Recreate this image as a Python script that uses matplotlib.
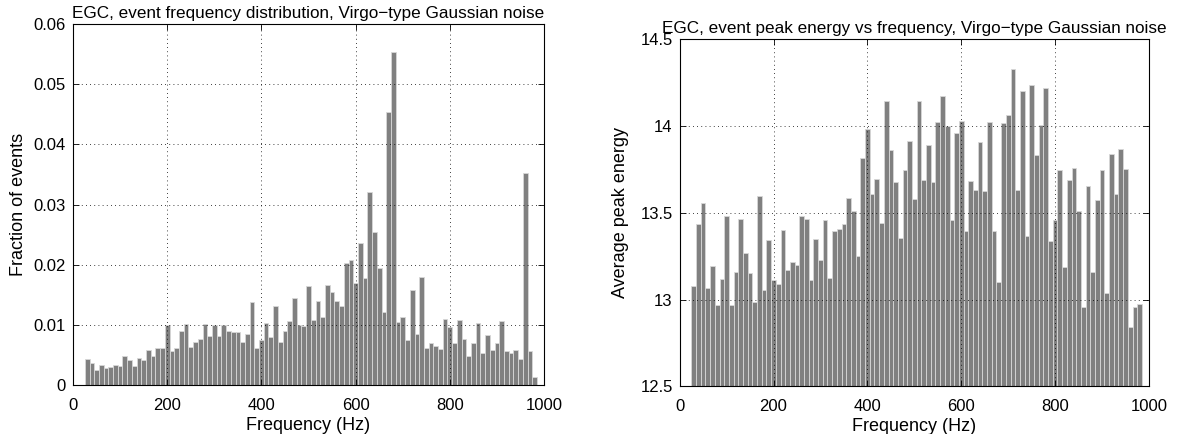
import numpy as np
import matplotlib
matplotlib.use("Agg")
import matplotlib.pyplot as plt

plt.rcParams['font.family'] = ['Liberation Sans', 'DejaVu Sans']
plt.rcParams['font.size'] = 12

# bin centres (Hz)
freq = np.arange(30, 990, 10)

# fraction of events per bin (units of 0.01)
frac = [0.43, 0.36, 0.25, 0.34, 0.29, 0.30, 0.34, 0.31, 0.49, 0.41,
        0.32, 0.45, 0.41, 0.58, 0.49, 0.62, 0.62, 1.00, 0.56, 0.61,
        0.89, 1.01, 0.63, 0.72, 0.77, 1.02, 0.81, 0.99, 0.81, 0.99,
        0.90, 0.88, 0.88, 0.72, 0.85, 1.38, 0.62, 0.75, 1.03, 0.80,
        1.32, 0.71, 0.89, 1.07, 1.45, 1.00, 0.98, 1.64, 1.08, 1.40,
        1.13, 1.67, 1.55, 1.40, 1.32, 2.03, 2.07, 1.70, 2.36, 1.78,
        3.20, 2.54, 1.95, 1.21, 4.54, 5.54, 1.04, 1.13, 0.75, 1.58,
        0.84, 1.80, 0.61, 0.70, 0.65, 0.60, 1.10, 0.96, 0.70, 1.08,
        0.77, 0.48, 0.69, 1.03, 0.54, 0.83, 0.59, 0.69, 1.07, 0.56,
        0.54, 0.58, 0.43, 3.52, 0.56, 0.13]
frac = np.array(frac) * 0.01

# average peak energy per bin
energy = [13.077, 13.435, 13.554, 13.067, 13.193, 12.967, 13.119, 13.483, 12.967, 13.157,
          13.466, 13.266, 13.153, 12.987, 13.598, 13.054, 13.343, 13.111, 13.088, 13.400,
          13.170, 13.215, 13.197, 13.479, 13.464, 13.111, 13.347, 13.226, 13.458, 13.125,
          13.393, 13.404, 13.433, 13.586, 13.511, 13.251, 13.816, 13.985, 13.611, 13.697,
          13.439, 14.142, 13.860, 13.678, 13.352, 13.749, 13.916, 13.577, 14.146, 13.692,
          13.889, 13.676, 14.021, 14.174, 14.000, 13.456, 13.962, 14.031, 13.393, 13.686,
          13.634, 13.908, 13.625, 14.025, 13.395, 13.100, 14.019, 14.065, 14.331, 13.630,
          14.205, 13.364, 14.234, 13.831, 14.008, 14.220, 13.335, 13.458, 13.749, 13.188,
          13.692, 13.759, 13.511, 12.956, 13.653, 13.159, 13.571, 13.745, 13.036, 13.841,
          13.611, 13.866, 13.753, 12.841, 12.956, 12.973]

fig = plt.figure(figsize=(11.97, 4.34), dpi=100)
ax1 = fig.add_axes([0.061, 0.1129, 0.3935, 0.8318])
ax2 = fig.add_axes([0.5678, 0.1099, 0.3921, 0.7995])


def style(ax):
    ax.grid(True, linestyle=(0, (1, 4)), color='black', linewidth=0.6)
    ax.set_axisbelow(False)
    ax.tick_params(direction='in', top=True, right=True, length=4, width=0.6)
    ax.tick_params(axis='x', pad=9)
    ax.tick_params(axis='y', pad=5)
    for s in ax.spines.values():
        s.set_linewidth(0.8)
    ax.set_xlim(0, 1000)
    ax.set_xticks([0, 200, 400, 600, 800, 1000])
    ax.set_xlabel('Frequency (Hz)', fontsize=13, labelpad=3)


ax1.bar(freq, frac, width=10, color='#808080', edgecolor='#d8d8d8', linewidth=0.6)
style(ax1)
ax1.set_ylim(0, 0.06)
ax1.set_yticks(np.arange(0, 0.061, 0.01))
ax1.set_yticklabels(['0', '0.01', '0.02', '0.03', '0.04', '0.05', '0.06'])
ax1.set_ylabel('Fraction of events', fontsize=13, labelpad=5)
ax1.set_title('EGC, event frequency distribution, Virgo\u2212type Gaussian noise',
              fontsize=12.3, pad=4.5)

ax2.bar(freq, np.array(energy) - 12.5, bottom=12.5, width=10, color='#808080',
        edgecolor='#d8d8d8', linewidth=0.6)
style(ax2)
ax2.set_ylim(12.5, 14.5)
ax2.set_yticks([12.5, 13, 13.5, 14, 14.5])
ax2.set_yticklabels(['12.5', '13', '13.5', '14', '14.5'])
ax2.set_ylabel('Average peak energy', fontsize=13, labelpad=8)
ax2.set_title('EGC, event peak energy vs frequency, Virgo\u2212type Gaussian noise',
              fontsize=12.3, pad=4.5)

fig.savefig('out.png', dpi=100)
